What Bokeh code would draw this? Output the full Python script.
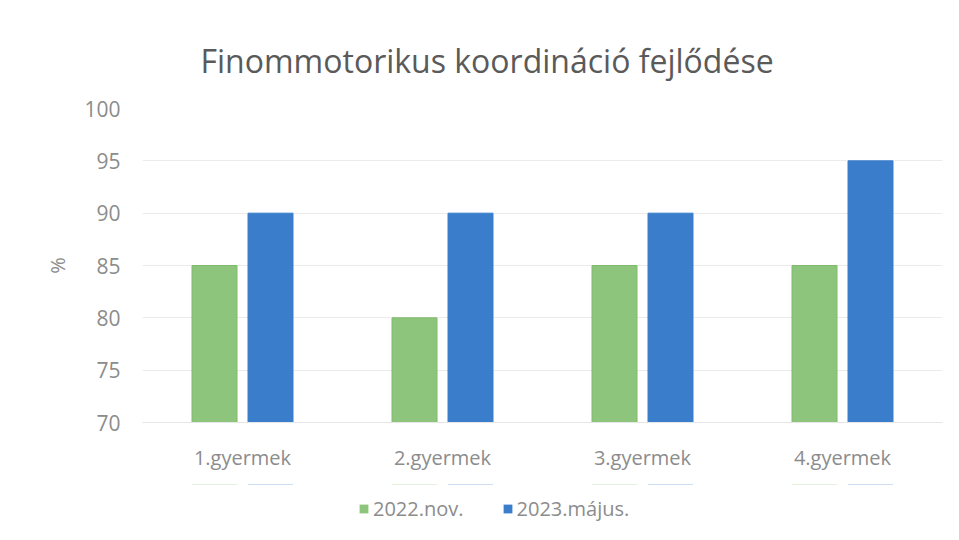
from bokeh.plotting import figure
from bokeh.models import ColumnDataSource, Legend, LegendItem, FactorRange
from bokeh.layouts import column
from bokeh.transform import dodge
from bokeh.embed import file_html
from bokeh.resources import INLINE

categories = ["1.gyermek", "2.gyermek", "3.gyermek", "4.gyermek"]
nov2022 = [85, 80, 85, 85]
maj2023 = [90, 90, 90, 95]
series_names = ["2022.nov.", "2023.május."]
y_ticks = [70, 75, 80, 85, 90, 95, 100]

src = ColumnDataSource(dict(cat=categories, a=nov2022, b=maj2023))

FONT = "Open Sans"
GRAY = "#8c8c8c"
GREEN, GREEN_EDGE = "#8cc57b", "#7fba6c"
BLUE = "#3a7ecb"

x_range = FactorRange(*categories, range_padding=0.0)

p = figure(x_range=x_range, y_range=(70, 100),
           frame_width=800, frame_height=314, output_backend="svg", toolbar_location=None,
           min_border_left=142, min_border_right=9, min_border_top=108,
           min_border_bottom=62)
p.outline_line_color = None
p.background_fill_color = "white"
p.border_fill_color = "white"

p.vbar(x=dodge("cat", -0.14, range=x_range), top="a", bottom=70, width=0.225,
       source=src, fill_color=GREEN, line_color=GREEN_EDGE, line_width=1)
p.vbar(x=dodge("cat", 0.14, range=x_range), top="b", bottom=70, width=0.225,
       source=src, fill_color=BLUE, line_color=BLUE, line_width=1)

p.title.text = "Finommotorikus koordináció fejlődése"
p.title.align = "left"
p.title.offset = 58
p.title.text_font = FONT
p.title.text_font_size = "32px"
p.title.text_font_style = "normal"
p.title.text_color = "#5a5a5a"
p.title.standoff = 54

p.yaxis.ticker = y_ticks
p.yaxis.axis_label = "%"
p.yaxis.axis_label_text_font = FONT
p.yaxis.axis_label_text_font_style = "normal"
p.yaxis.axis_label_text_font_size = "20px"
p.yaxis.axis_label_text_color = GRAY
p.yaxis.axis_label_standoff = 10
p.yaxis.major_label_text_font = FONT
p.yaxis.major_label_text_font_size = "21px"
p.yaxis.major_label_text_color = GRAY
p.yaxis.major_label_standoff = 16
p.yaxis.axis_line_color = None
p.yaxis.major_tick_line_color = None
p.yaxis.minor_tick_line_color = None

p.xaxis.major_label_text_font = FONT
p.xaxis.major_label_text_font_size = "20px"
p.xaxis.major_label_text_color = GRAY
p.xaxis.major_label_standoff = 15
p.xaxis.axis_line_color = "#e6e6e6"
p.xaxis.major_tick_line_color = None
p.xaxis.minor_tick_line_color = None

p.xgrid.grid_line_color = None
p.ygrid.grid_line_color = "#ebebeb"
p.ygrid.grid_line_width = 1

# legend strip below the chart (its bars lie outside its view; only the legend shows)
pl = figure(x_range=x_range, y_range=(0, 1), frame_width=800, frame_height=48,
            output_backend="svg", toolbar_location=None,
            x_axis_location=None, y_axis_location=None,
            min_border_left=142, min_border_right=9, min_border_top=0, min_border_bottom=0)
pl.outline_line_color = None
pl.xgrid.grid_line_color = None
pl.ygrid.grid_line_color = None
l1 = pl.vbar(x=dodge("cat", -0.14, range=x_range), top="a", bottom=70, width=0.225,
             source=src, fill_color=GREEN, line_color=None)
l2 = pl.vbar(x=dodge("cat", 0.14, range=x_range), top="b", bottom=70, width=0.225,
             source=src, fill_color=BLUE, line_color=None)
legend = Legend(items=[LegendItem(label=series_names[0], renderers=[l1], index=0),
                       LegendItem(label=series_names[1], renderers=[l2], index=0)],
                orientation="horizontal", location=(216, 10),
                label_text_font=FONT, label_text_font_size="20px",
                label_text_color=GRAY, glyph_width=11, glyph_height=11,
                spacing=38, label_standoff=4, border_line_color=None,
                background_fill_alpha=0, margin=0, padding=0)
pl.add_layout(legend, "center")

open("out.html", "w").write(file_html(column(p, pl, spacing=0), INLINE))
